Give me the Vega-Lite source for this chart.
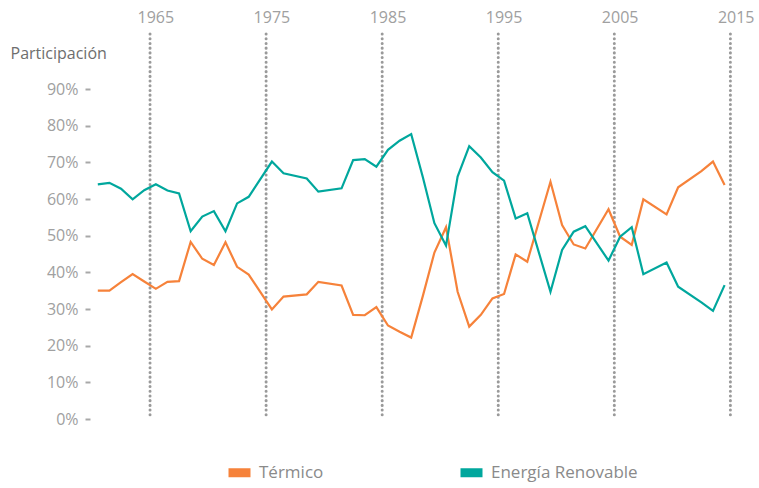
{
  "$schema": "https://vega.github.io/schema/vega-lite/v6.json",
  "width": 650,
  "height": 385,
  "autosize": "none",
  "padding": {"left": 92, "top": 34, "right": 17, "bottom": 69},
  "background": "white",
  "config": {"view": {"stroke": null}, "font": "Open Sans"},
  "layer": [
    {
      "data": {"values": [{"year": 1965}, {"year": 1975}, {"year": 1985}, {"year": 1995}, {"year": 2005}, {"year": 2015}]},
      "mark": {"type": "rule", "color": "#9a9a9a", "strokeWidth": 3, "strokeDash": [0.1, 4.6], "strokeCap": "round"},
      "encoding": {
        "x": {
          "field": "year",
          "type": "ordinal",
          "bandPosition": 0,
          "scale": {
            "type": "band",
            "paddingInner": 0,
            "paddingOuter": 0,
            "domain": [1960,1961,1962,1963,1964,1965,1966,1967,1968,1969,1970,1971,1972,1973,1974,1975,1976,1977,1978,1979,1980,1981,1982,1983,1984,1985,1986,1987,1988,1989,1990,1991,1992,1993,1994,1995,1996,1997,1998,1999,2000,2001,2002,2003,2004,2005,2006,2007,2008,2009,2010,2011,2012,2013,2014,2015]
          },
          "axis": {
            "orient": "top",
            "values": [1965, 1975, 1985, 1995, 2005, 2015],
            "bandPosition": 0,
            "ticks": false,
            "domain": false,
            "grid": false,
            "labelAngle": 0,
            "labelFontSize": 16,
            "labelColor": "#a0a0a0",
            "labelPadding": 9,
            "title": null
          }
        }
      }
    },
    {
      "data": {
        "values": [
          {"year": 1960, "serie": "Térmico", "value": 0.350},
          {"year": 1961, "serie": "Térmico", "value": 0.350},
          {"year": 1962, "serie": "Térmico", "value": 0.373},
          {"year": 1963, "serie": "Térmico", "value": 0.395},
          {"year": 1964, "serie": "Térmico", "value": 0.375},
          {"year": 1965, "serie": "Térmico", "value": 0.355},
          {"year": 1966, "serie": "Térmico", "value": 0.374},
          {"year": 1967, "serie": "Térmico", "value": 0.376},
          {"year": 1968, "serie": "Térmico", "value": 0.483},
          {"year": 1969, "serie": "Térmico", "value": 0.437},
          {"year": 1970, "serie": "Térmico", "value": 0.420},
          {"year": 1971, "serie": "Térmico", "value": 0.482},
          {"year": 1972, "serie": "Térmico", "value": 0.415},
          {"year": 1973, "serie": "Térmico", "value": 0.394},
          {"year": 1975, "serie": "Térmico", "value": 0.299},
          {"year": 1976, "serie": "Térmico", "value": 0.334},
          {"year": 1978, "serie": "Térmico", "value": 0.340},
          {"year": 1979, "serie": "Térmico", "value": 0.374},
          {"year": 1981, "serie": "Térmico", "value": 0.364},
          {"year": 1982, "serie": "Térmico", "value": 0.284},
          {"year": 1983, "serie": "Térmico", "value": 0.283},
          {"year": 1984, "serie": "Térmico", "value": 0.305},
          {"year": 1985, "serie": "Térmico", "value": 0.255},
          {"year": 1986, "serie": "Térmico", "value": 0.238},
          {"year": 1987, "serie": "Térmico", "value": 0.222},
          {"year": 1988, "serie": "Térmico", "value": 0.335},
          {"year": 1989, "serie": "Térmico", "value": 0.454},
          {"year": 1990, "serie": "Térmico", "value": 0.523},
          {"year": 1991, "serie": "Térmico", "value": 0.347},
          {"year": 1992, "serie": "Térmico", "value": 0.252},
          {"year": 1993, "serie": "Térmico", "value": 0.284},
          {"year": 1994, "serie": "Térmico", "value": 0.329},
          {"year": 1995, "serie": "Térmico", "value": 0.341},
          {"year": 1996, "serie": "Térmico", "value": 0.449},
          {"year": 1997, "serie": "Térmico", "value": 0.429},
          {"year": 1999, "serie": "Térmico", "value": 0.647},
          {"year": 2000, "serie": "Térmico", "value": 0.529},
          {"year": 2001, "serie": "Térmico", "value": 0.476},
          {"year": 2002, "serie": "Térmico", "value": 0.465},
          {"year": 2004, "serie": "Térmico", "value": 0.572},
          {"year": 2005, "serie": "Térmico", "value": 0.497},
          {"year": 2006, "serie": "Térmico", "value": 0.475},
          {"year": 2007, "serie": "Térmico", "value": 0.599},
          {"year": 2009, "serie": "Térmico", "value": 0.558},
          {"year": 2010, "serie": "Térmico", "value": 0.632},
          {"year": 2012, "serie": "Térmico", "value": 0.676},
          {"year": 2013, "serie": "Térmico", "value": 0.702},
          {"year": 2014, "serie": "Térmico", "value": 0.638},
          {"year": 1960, "serie": "Energía Renovable", "value": 0.640},
          {"year": 1961, "serie": "Energía Renovable", "value": 0.644},
          {"year": 1962, "serie": "Energía Renovable", "value": 0.628},
          {"year": 1963, "serie": "Energía Renovable", "value": 0.599},
          {"year": 1964, "serie": "Energía Renovable", "value": 0.624},
          {"year": 1965, "serie": "Energía Renovable", "value": 0.640},
          {"year": 1966, "serie": "Energía Renovable", "value": 0.623},
          {"year": 1967, "serie": "Energía Renovable", "value": 0.615},
          {"year": 1968, "serie": "Energía Renovable", "value": 0.512},
          {"year": 1969, "serie": "Energía Renovable", "value": 0.552},
          {"year": 1970, "serie": "Energía Renovable", "value": 0.567},
          {"year": 1971, "serie": "Energía Renovable", "value": 0.512},
          {"year": 1972, "serie": "Energía Renovable", "value": 0.588},
          {"year": 1973, "serie": "Energía Renovable", "value": 0.606},
          {"year": 1975, "serie": "Energía Renovable", "value": 0.702},
          {"year": 1976, "serie": "Energía Renovable", "value": 0.670},
          {"year": 1978, "serie": "Energía Renovable", "value": 0.656},
          {"year": 1979, "serie": "Energía Renovable", "value": 0.620},
          {"year": 1981, "serie": "Energía Renovable", "value": 0.629},
          {"year": 1982, "serie": "Energía Renovable", "value": 0.706},
          {"year": 1983, "serie": "Energía Renovable", "value": 0.709},
          {"year": 1984, "serie": "Energía Renovable", "value": 0.688},
          {"year": 1985, "serie": "Energía Renovable", "value": 0.734},
          {"year": 1986, "serie": "Energía Renovable", "value": 0.759},
          {"year": 1987, "serie": "Energía Renovable", "value": 0.777},
          {"year": 1988, "serie": "Energía Renovable", "value": 0.660},
          {"year": 1989, "serie": "Energía Renovable", "value": 0.534},
          {"year": 1990, "serie": "Energía Renovable", "value": 0.473},
          {"year": 1991, "serie": "Energía Renovable", "value": 0.661},
          {"year": 1992, "serie": "Energía Renovable", "value": 0.744},
          {"year": 1993, "serie": "Energía Renovable", "value": 0.713},
          {"year": 1994, "serie": "Energía Renovable", "value": 0.673},
          {"year": 1995, "serie": "Energía Renovable", "value": 0.650},
          {"year": 1996, "serie": "Energía Renovable", "value": 0.547},
          {"year": 1997, "serie": "Energía Renovable", "value": 0.561},
          {"year": 1999, "serie": "Energía Renovable", "value": 0.347},
          {"year": 2000, "serie": "Energía Renovable", "value": 0.461},
          {"year": 2001, "serie": "Energía Renovable", "value": 0.511},
          {"year": 2002, "serie": "Energía Renovable", "value": 0.526},
          {"year": 2004, "serie": "Energía Renovable", "value": 0.432},
          {"year": 2005, "serie": "Energía Renovable", "value": 0.497},
          {"year": 2006, "serie": "Energía Renovable", "value": 0.523},
          {"year": 2007, "serie": "Energía Renovable", "value": 0.395},
          {"year": 2009, "serie": "Energía Renovable", "value": 0.427},
          {"year": 2010, "serie": "Energía Renovable", "value": 0.361},
          {"year": 2012, "serie": "Energía Renovable", "value": 0.318},
          {"year": 2013, "serie": "Energía Renovable", "value": 0.295},
          {"year": 2014, "serie": "Energía Renovable", "value": 0.365}
        ]
      },
      "mark": {"type": "line", "strokeWidth": 2.2},
      "encoding": {
        "x": {"field": "year", "type": "ordinal", "bandPosition": 0.5},
        "y": {
          "field": "value",
          "type": "quantitative",
          "scale": {"domain": [0, 1.05], "nice": false},
          "axis": {
            "values": [0, 0.1, 0.2, 0.3, 0.4, 0.5, 0.6, 0.7, 0.8, 0.9],
            "format": ".0%",
            "title": "Participación",
            "titleAngle": 0,
            "titleAlign": "left",
            "titleBaseline": "alphabetic",
            "titleX": -80,
            "titleY": 24,
            "titleFontSize": 16,
            "titleFontWeight": "normal",
            "titleColor": "#6e6e6e",
            "labelFontSize": 16,
            "labelColor": "#a0a0a0",
            "tickSize": 5,
            "tickWidth": 2,
            "tickColor": "#a8a8a8",
            "domain": false,
            "grid": false,
            "offset": 2,
            "labelPadding": 7
          }
        },
        "color": {
          "field": "serie",
          "type": "nominal",
          "scale": {"domain": ["Térmico", "Energía Renovable"], "range": ["#F6823A", "#00A79D"]},
          "legend": {
            "orient": "none",
            "legendX": 132,
            "legendY": 423,
            "direction": "horizontal",
            "title": null,
            "padding": 0,
            "symbolType": "stroke",
            "symbolSize": 484,
            "symbolStrokeWidth": 9,
            "labelFontSize": 17,
            "labelColor": "#8a8a8a",
            "labelOffset": 4,
            "columnPadding": 118
          }
        }
      }
    }
  ]
}
